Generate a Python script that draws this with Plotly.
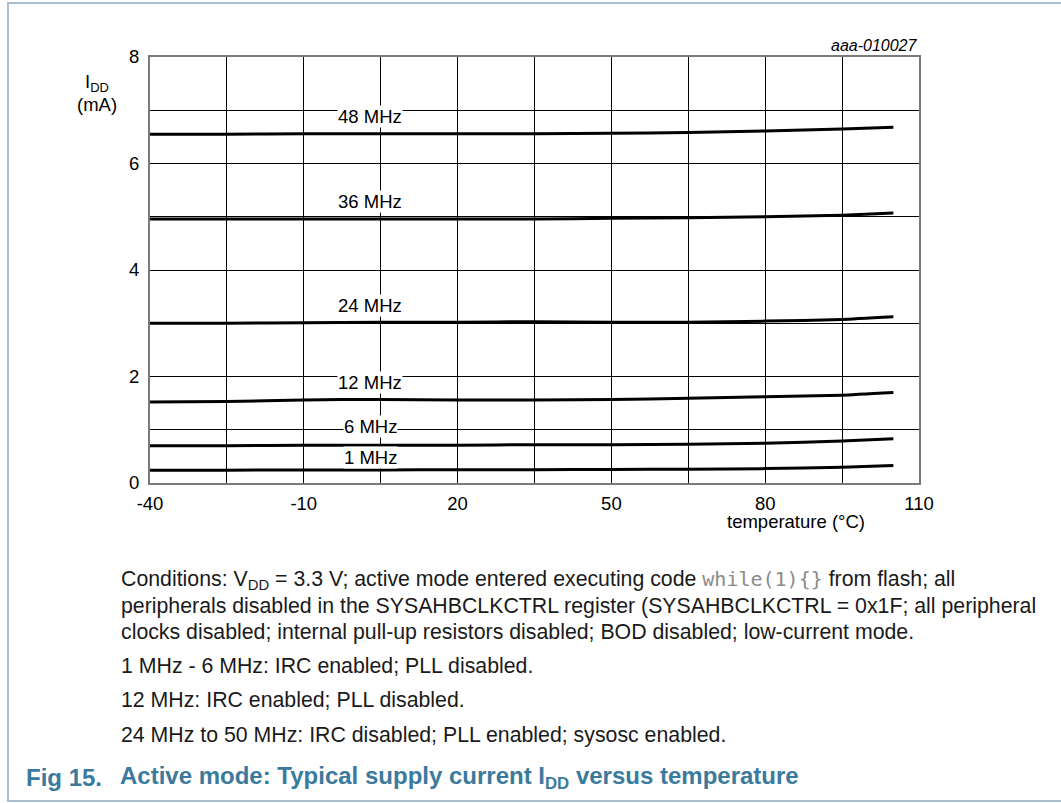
import plotly.graph_objects as go

# ---------------- data ----------------
temps = [-40, -25, -10, 5, 20, 35, 50, 65, 80, 95, 105]
idd_48 = [6.55, 6.55, 6.56, 6.56, 6.56, 6.56, 6.57, 6.58, 6.61, 6.65, 6.68]
idd_36 = [4.96, 4.96, 4.96, 4.96, 4.96, 4.96, 4.97, 4.98, 5.00, 5.03, 5.07]
idd_24 = [3.00, 3.00, 3.01, 3.02, 3.02, 3.03, 3.02, 3.02, 3.04, 3.07, 3.12]
idd_12 = [1.52, 1.53, 1.56, 1.57, 1.56, 1.56, 1.57, 1.59, 1.62, 1.65, 1.70]
idd_6 = [0.70, 0.70, 0.71, 0.71, 0.71, 0.72, 0.72, 0.73, 0.745, 0.79, 0.83]
idd_1 = [0.24, 0.24, 0.245, 0.245, 0.25, 0.25, 0.255, 0.26, 0.27, 0.295, 0.33]

series_names = ["48 MHz", "36 MHz", "24 MHz", "12 MHz", "6 MHz", "1 MHz"]
series_values = [idd_48, idd_36, idd_24, idd_12, idd_6, idd_1]
label_x = 3
label_y = [6.88, 5.28, 3.34, 1.88, 1.06, 0.48]

x_ticks = [-40, -10, 20, 50, 80, 110]
y_ticks = [0, 2, 4, 6, 8]

FONT = "Liberation Sans, Arial, sans-serif"
W, H = 1061, 803
L, R, T, B = 150, 919, 57, 483


def xp(px):
    return (px - L) / (R - L)


def yp(py):
    return (B - py) / (B - T)


fig = go.Figure()
for name, vals in zip(series_names, series_values):
    fig.add_trace(go.Scatter(x=temps, y=vals, mode="lines", name=name,
                             line=dict(color="black", width=3, shape="spline", smoothing=0.4),
                             showlegend=False, hoverinfo="skip"))

annotations = []
for name, ly in zip(series_names, label_y):
    annotations.append(dict(x=label_x, y=ly, xref="x", yref="y", text=name, showarrow=False,
                            font=dict(family=FONT, size=18.5, color="black"),
                            bgcolor="white", borderpad=0, xanchor="center", yanchor="middle"))

# axis title (y)
annotations.append(dict(x=xp(97), y=yp(83), xref="paper", yref="paper", text="I<sub>DD</sub>",
                        showarrow=False, font=dict(family=FONT, size=18.5, color="black"),
                        xanchor="center", yanchor="middle"))
annotations.append(dict(x=xp(97), y=yp(105), xref="paper", yref="paper", text="(mA)",
                        showarrow=False, font=dict(family=FONT, size=18.5, color="black"),
                        xanchor="center", yanchor="middle"))
# x axis title
annotations.append(dict(x=xp(796), y=yp(521), xref="paper", yref="paper", text="temperature (°C)",
                        showarrow=False, font=dict(family=FONT, size=18.5, color="black"),
                        xanchor="center", yanchor="middle"))
# figure id
annotations.append(dict(x=xp(920), y=yp(46), xref="paper", yref="paper",
                        text="<i>aaa-010027</i>", showarrow=False,
                        font=dict(family=FONT, size=16, color="black"),
                        xanchor="right", yanchor="middle"))

mono = ("<span style='font-family:DejaVu Sans Mono, monospace;font-size:20px;color:#8a8a8a'>"
        "while(1){}</span>")
body_lines = [
    ("Conditions: V<sub>DD</sub> = 3.3 V; active mode entered executing code " + mono + " from flash; all", 580),
    ("peripherals disabled in the SYSAHBCLKCTRL register (SYSAHBCLKCTRL = 0x1F; all peripheral", 606),
    ("clocks disabled; internal pull-up resistors disabled; BOD disabled; low-current mode.", 632),
    ("1 MHz - 6 MHz: IRC enabled; PLL disabled.", 666),
    ("12 MHz: IRC enabled; PLL disabled.", 700),
    ("24 MHz to 50 MHz: IRC disabled; PLL enabled; sysosc enabled.", 735),
]
for txt, py in body_lines:
    annotations.append(dict(x=xp(119), y=yp(py), xref="paper", yref="paper", text=txt,
                            showarrow=False, font=dict(family=FONT, size=21.3, color="#1a1a1a"),
                            xanchor="left", yanchor="middle", align="left"))

CAP = "#3b7a9c"
annotations.append(dict(x=xp(24), y=yp(777), xref="paper", yref="paper", text="<b>Fig 15.</b>",
                        showarrow=False, font=dict(family=FONT, size=24, color=CAP),
                        xanchor="left", yanchor="middle"))
annotations.append(dict(x=xp(118), y=yp(777), xref="paper", yref="paper",
                        text="<b>Active mode: Typical supply current I<sub>DD</sub> versus temperature</b>",
                        showarrow=False, font=dict(family=FONT, size=24, color=CAP),
                        xanchor="left", yanchor="middle"))

shapes = [dict(type="rect", xref="paper", yref="paper",
               x0=xp(8), x1=xp(1075), y0=yp(801), y1=yp(3),
               line=dict(color="#a9bfcf", width=2), fillcolor="rgba(0,0,0,0)", layer="below")]

fig.update_layout(
    width=W, height=H,
    margin=dict(l=L, r=W - R, t=T, b=H - B),
    paper_bgcolor="white", plot_bgcolor="white",
    font=dict(family=FONT, size=18.5, color="black"),
    annotations=annotations, shapes=shapes,
    xaxis=dict(range=[-40, 110], tickmode="array", tickvals=x_ticks,
               ticktext=[str(v) for v in x_ticks],
               showgrid=True, gridcolor="black", gridwidth=1, zeroline=False,
               minor=dict(tick0=-40, dtick=15, showgrid=True, gridcolor="black", gridwidth=1, ticks=""),
               showline=True, linecolor="#7a7a7a", linewidth=2, mirror=True,
               ticks="", ticklabelstandoff=3, tickfont=dict(size=18.5)),
    yaxis=dict(range=[0, 8], tickmode="array", tickvals=y_ticks,
               ticktext=[str(v) for v in y_ticks],
               showgrid=True, gridcolor="black", gridwidth=1, zeroline=False,
               minor=dict(tick0=0, dtick=1, showgrid=True, gridcolor="black", gridwidth=1, ticks=""),
               showline=True, linecolor="#7a7a7a", linewidth=2, mirror=True,
               ticks="", ticklabelstandoff=5, tickfont=dict(size=18.5)),
)

fig.write_html("out.html", config={"displayModeBar": False},
               post_script="document.body.style.margin='0px';")
